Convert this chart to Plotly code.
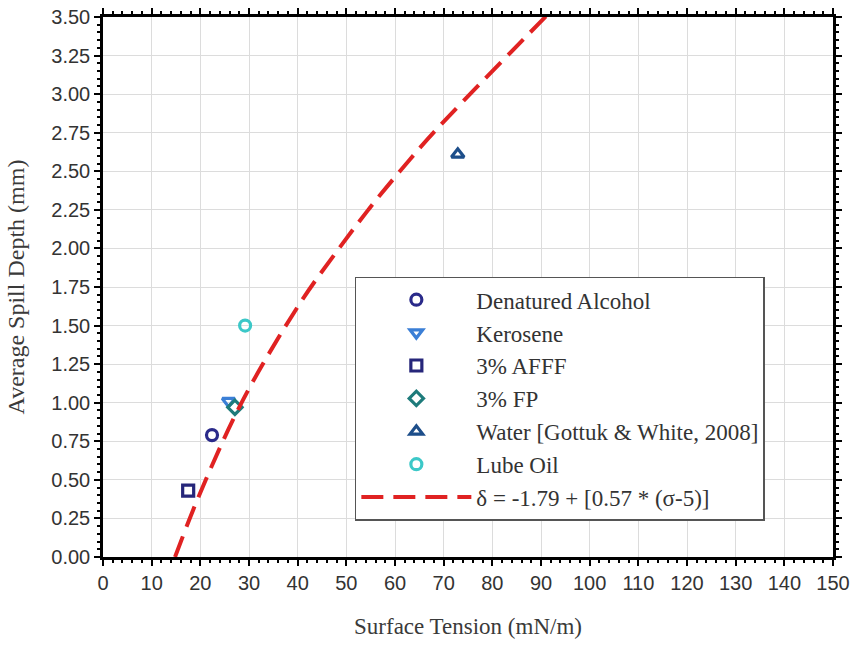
import plotly.graph_objects as go

# ---- data ----
series_names = ["Denatured Alcohol", "Kerosene", "3% AFFF", "3% FP",
                "Water [Gottuk & White, 2008]", "Lube Oil"]
series_x = [[22.4], [25.8], [17.5], [27.1], [72.9], [29.2]]
series_y = [[0.79], [1.01], [0.43], [0.97], [2.61], [1.50]]
series_symbols = ["circle-open", "triangle-down-open", "square-open",
                  "diamond-open", "triangle-up-open", "circle-open"]
series_colors = ["#2a2a8a", "#3b7fd6", "#26267a", "#1e7b7b", "#1d4e8a", "#3cc8c8"]

fit_label = "δ = -1.79 + [0.57 * (σ-5)]"
fit_x = [14.8, 19.9, 28.8, 40.8, 48.5, 54.5, 61.0, 68.2, 91.2]
fit_y = [0.00, 0.41, 1.02, 1.66, 2.00, 2.25, 2.50, 2.76, 3.51]

x_title = "Surface Tension (mN/m)"
y_title = "Average Spill Depth (mm)"

fig = go.Figure()
for name, xs, ys, sym, col in zip(series_names, series_x, series_y,
                                  series_symbols, series_colors):
    fig.add_trace(go.Scatter(
        x=xs, y=ys, mode="markers", name=name,
        marker=dict(symbol=sym, size=11, color=col,
                    line=dict(width=3.2, color=col)),
    ))

fig.add_trace(go.Scatter(
    x=fit_x, y=fit_y, mode="lines", name=fit_label,
    line=dict(color="#e02222", width=4, dash="22px,10px", shape="spline"),
))

tickfont = dict(family="Liberation Sans, Arial", size=20, color="#333333")
serif = "Liberation Serif, Times New Roman"

fig.update_layout(
    width=855, height=650,
    margin=dict(l=103, r=22, t=17, b=93),
    paper_bgcolor="white", plot_bgcolor="white",
    showlegend=True,
    legend=dict(
        x=0.345, y=0.519, xanchor="left", yanchor="top",
        bgcolor="white", bordercolor="#555555", borderwidth=1.5,
        font=dict(family=serif, size=23, color="#333333"),
        itemwidth=110,
    ),
    xaxis=dict(
        range=[0, 150], dtick=10, tick0=0,
        showline=True, linecolor="black", linewidth=2.5, mirror="allticks",
        ticks="outside", ticklen=6, tickwidth=2, tickcolor="black",
        showgrid=True, gridcolor="#dcdcdc", gridwidth=1,
        zeroline=False, tickfont=tickfont,
        minor=dict(dtick=2, ticks="outside", ticklen=3, tickwidth=1.5,
                   tickcolor="black", showgrid=False),
        title=dict(text=x_title, font=dict(family=serif, size=23, color="#3a3a3a"), standoff=26),
        automargin=False,
    ),
    yaxis=dict(
        range=[0, 3.5], dtick=0.25, tick0=0, tickformat=".2f",
        showline=True, linecolor="black", linewidth=2.5, mirror="allticks",
        ticks="outside", ticklen=6, tickwidth=2, tickcolor="black",
        showgrid=True, gridcolor="#dcdcdc", gridwidth=1,
        zeroline=False, tickfont=tickfont,
        minor=dict(dtick=0.05, ticks="outside", ticklen=3, tickwidth=1.5,
                   tickcolor="black", showgrid=False),
        title=dict(text=y_title, font=dict(family=serif, size=24, color="#3a3a3a"), standoff=20),
        automargin=False,
    ),
)

fig.write_html("out.html", config={"displayModeBar": False},
               post_script="document.body.style.margin='0';")
